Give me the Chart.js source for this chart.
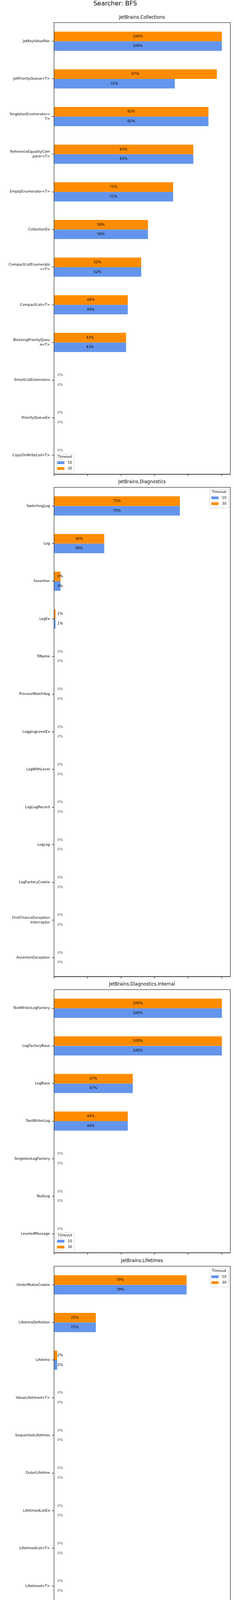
<!DOCTYPE html>
<html>
<head>
<meta charset="utf-8">
<script src="https://cdn.jsdelivr.net/npm/chart.js@4.4.1/dist/chart.umd.min.js"></script>
<style>
  body { margin: 0; background: #fff; }
  #wrap { position: relative; width: 600px; height: 7000px; }
  #wrap canvas { position: absolute; left: 0; }
</style>
</head>
<body>
<div id="wrap"></div>
<script>
// Datos: porcentaje de cobertura por clase, para timeout 10 y 30
const seriesNames = ['10', '30'];
const seriesColors = ['#6495ED', '#FF8C00'];

const collectionsCats = ['JetKeyValuePair', 'JetPriorityQueue<T>', 'SingletonEnumerator<T>', 'ReferenceEqualityComparer<T>',
  'EmptyEnumerator<T>', 'CollectionEx', 'CompactListEnumerator<T>', 'CompactList<T>', 'BlockingPriorityQueue<T>',
  'SmartListExtensions', 'PriorityQueueEx', 'CopyOnWriteList<T>'];
const collections10 = [100, 72, 92, 83, 71, 56, 52, 44, 43, 0, 0, 0];
const collections30 = [100, 97, 92, 83, 71, 56, 52, 44, 43, 0, 0, 0];

const diagnosticsCats = ['SwitchingLog', 'Log', 'Assertion', 'LogEx', 'RName', 'ProcessWatchdog', 'LoggingLevelEx',
  'LogWithLevel', 'LogLogRecord', 'LogLog', 'LogFactoryCookie', 'FirstChanceExceptionInterceptor', 'AssertionException'];
const diagnostics10 = [75, 30, 4, 1, 0, 0, 0, 0, 0, 0, 0, 0, 0];
const diagnostics30 = [75, 30, 4, 1, 0, 0, 0, 0, 0, 0, 0, 0, 0];

const internalCats = ['TextWriterLogFactory', 'LogFactoryBase', 'LogBase', 'TextWriterLog', 'SingletonLogFactory',
  'NullLog', 'LeveledMessage'];
const internal10 = [100, 100, 47, 44, 0, 0, 0];
const internal30 = [100, 100, 47, 44, 0, 0, 0];

const lifetimesCats = ['UnderMutexCookie', 'LifetimeDefinition', 'Lifetime', 'ValueLifetimed<T>', 'SequentialLifetimes',
  'OuterLifetime', 'LifetimedListEx', 'LifetimedList<T>', 'Lifetimed<T>', 'LifetimeCanceledException',
  'FinalizableGuard', 'ExecuteIfAliveCookie', 'AllowTerminationUnderExecutionCookie'];
const lifetimes10 = [79, 25, 2, 0, 0, 0, 0, 0, 0, 0, 0, 0, 0];
const lifetimes30 = [79, 25, 2, 0, 0, 0, 0, 0, 0, 0, 0, 0, 0];

const utilCats = ['EmptyArray<T>', 'BitHacks', 'SingleThreadObjectPool<T>', 'SingleThreadListPool<T>', 'RuntimeInfo',
  'RentedValueCookie<T>', 'ReflectionUtil', 'NullableEx', 'LocalStopwatch', 'EmptyArray', 'EmptyAction<T>',
  'EmptyAction<T1,T2>', 'EmptyAction<T1,T2,T3>', 'EmptyAction'];
const util10 = [100, 53, 0, 0, 0, 0, 0, 0, 0, 0, 0, 0, 0, 0];
const util30 = [100, 53, 0, 0, 0, 0, 0, 0, 0, 0, 0, 0, 0, 0];

const utilUtilCats = ['BoolBitSlice', 'Enum32BitSlice<T>', 'Statics', 'IntBitSlice', 'Cast32BitEnum<T>', 'BitSlice',
  'Types', 'StaticsForType<T>', 'BitSlice<T>', 'CastTo<TTo>', 'Cast64BitEnum<T>'];
const utilUtil10 = [100, 92, 88, 75, 75, 71, 59, 36, 22, 0, 0];
const utilUtil30 = [100, 92, 88, 75, 75, 71, 59, 36, 22, 0, 0];

const panels = [
  { title: 'JetBrains.Collections', cats: collectionsCats, t10: collections10, t30: collections30, legend: 'lower left' },
  { title: 'JetBrains.Diagnostics', cats: diagnosticsCats, t10: diagnostics10, t30: diagnostics30, legend: 'upper right' },
  { title: 'JetBrains.Diagnostics.Internal', cats: internalCats, t10: internal10, t30: internal30, legend: 'lower left' },
  { title: 'JetBrains.Lifetimes', cats: lifetimesCats, t10: lifetimes10, t30: lifetimes30, legend: 'upper right' },
  { title: 'JetBrains.Util', cats: utilCats, t10: util10, t30: util30, legend: 'lower left' },
  { title: 'JetBrains.Util.Util', cats: utilUtilCats, t10: utilUtil10, t30: utilUtil30, legend: 'lower left' }
];

Chart.defaults.font.family = "'DejaVu Sans', sans-serif";
Chart.defaults.color = '#000';

const BAND = 96.35;     // alto de cada categoría
const GAP = 33.6;       // espacio entre subgráficos
const AXIS_LEFT = 138;
const FONT = "'DejaVu Sans', sans-serif";

// corta etiquetas largas cada 20 caracteres, como en el original
function wrap(label) {
  const lines = [];
  for (let i = 0; i < label.length; i += 20) lines.push(label.slice(i, i + 20));
  return lines.length > 1 ? lines : label;
}

// textos de porcentaje sobre las barras
const barLabels = {
  id: 'barLabels',
  afterDatasetsDraw(chart) {
    const ctx = chart.ctx, xs = chart.scales.x;
    ctx.save();
    ctx.font = '9px ' + FONT;
    ctx.textAlign = 'center';
    ctx.textBaseline = 'middle';
    chart.data.datasets.forEach((ds, i) => {
      chart.getDatasetMeta(i).data.forEach((bar, j) => {
        const v = ds.data[j];
        ctx.fillStyle = v === 0 ? '#555' : '#000';
        ctx.fillText(v + '%', xs.getPixelForValue(Math.max(v / 2, 3.8)), bar.y);
      });
    });
    ctx.restore();
  }
};

// marco completo y leyenda "Timeout"
const frameLegend = {
  id: 'frameLegend',
  afterDraw(chart, args, opts) {
    const ctx = chart.ctx, a = chart.chartArea;
    ctx.save();
    ctx.strokeStyle = '#000';
    ctx.lineWidth = 1;
    ctx.strokeRect(a.left + 0.5, a.top + 0.5, a.right - a.left - 0.5, a.bottom - a.top - 0.5);

    const w = 47.5, h = 48;
    const lx = opts.corner === 'upper right' ? a.right - 5 - w : a.left + 4.6;
    const ly = opts.corner === 'upper right' ? a.top + 5 : a.bottom - 4 - h;
    ctx.beginPath();
    ctx.roundRect(lx + 0.5, ly + 0.5, w, h, 2);
    ctx.fillStyle = 'rgba(255,255,255,0.8)';
    ctx.fill();
    ctx.strokeStyle = '#ccc';
    ctx.stroke();

    ctx.font = '9px ' + FONT;
    ctx.textBaseline = 'middle';
    ctx.textAlign = 'center';
    ctx.fillStyle = '#000';
    ctx.fillText('Timeout', lx + w / 2, ly + 7.8);
    ctx.textAlign = 'left';
    seriesNames.forEach((name, k) => {
      const ry = ly + 22.5 + 15 * k;
      ctx.fillStyle = seriesColors[k];
      ctx.fillRect(lx + 3.8, ry - 3.5, 18.8, 7);
      ctx.fillStyle = '#000';
      ctx.fillText(name, lx + 31, ry);
    });
    ctx.restore();
  }
};

const wrapEl = document.getElementById('wrap');
let plotTop = 57.4;

panels.forEach((p, k) => {
  const first = k === 0;
  const last = k === panels.length - 1;
  const headH = first ? plotTop : 24;
  const footH = last ? 30 : 8;
  const plotH = p.cats.length * BAND;

  const cv = document.createElement('canvas');
  cv.width = 600;
  cv.height = Math.round(headH + plotH + footH);
  cv.style.top = (plotTop - headH) + 'px';
  wrapEl.appendChild(cv);

  const titleOpts = first
    ? { display: true, text: 'Searcher: BFS', font: { size: 16, weight: 'normal' }, color: '#000', padding: { top: 0, bottom: 14.7 } }
    : { display: true, text: p.title, fullSize: false, font: { size: 11.5, weight: 'normal' }, color: '#000', padding: { top: 4, bottom: 6.2 } };
  const subtitleOpts = first
    ? { display: true, text: p.title, fullSize: false, font: { size: 11.5, weight: 'normal' }, color: '#000', padding: { top: 4, bottom: 5.7 } }
    : { display: false };

  new Chart(cv, {
    type: 'bar',
    data: {
      labels: p.cats,
      datasets: [
        { label: seriesNames[1], data: p.t30, backgroundColor: seriesColors[1], borderWidth: 0 },
        { label: seriesNames[0], data: p.t10, backgroundColor: seriesColors[0], borderWidth: 0 }
      ]
    },
    options: {
      indexAxis: 'y',
      responsive: false,
      animation: false,
      categoryPercentage: 0.51,
      barPercentage: 1.0,
      layout: { padding: { left: 0, right: 9.5, top: 0, bottom: 0 } },
      plugins: {
        title: titleOpts,
        subtitle: subtitleOpts,
        legend: { display: false },
        tooltip: { enabled: false },
        frameLegend: { corner: p.legend }
      },
      scales: {
        x: {
          min: 0,
          max: 105,
          ticks: { stepSize: 20, includeBounds: false, display: last, font: { size: 9 }, color: '#000', padding: 3, maxRotation: 0 },
          grid: { drawOnChartArea: false, drawTicks: true, tickLength: 5, color: '#000' },
          border: { display: true, color: '#000' },
          afterFit(s) { s.height = footH; s.paddingLeft = 0; s.paddingRight = 0; }
        },
        y: {
          ticks: {
            autoSkip: false,
            font: { size: 9, lineHeight: 1.35 },
            color: '#000',
            padding: 5,
            callback(v) { return wrap(this.getLabelForValue(v)); }
          },
          grid: { drawOnChartArea: false, drawTicks: true, tickLength: 5, color: '#000', offset: false },
          border: { display: true, color: '#000' },
          afterFit(s) { s.width = AXIS_LEFT; s.paddingTop = 0; s.paddingBottom = 0; }
        }
      }
    },
    plugins: [barLabels, frameLegend]
  });

  plotTop += plotH + GAP;
});
</script>
</body>
</html>
